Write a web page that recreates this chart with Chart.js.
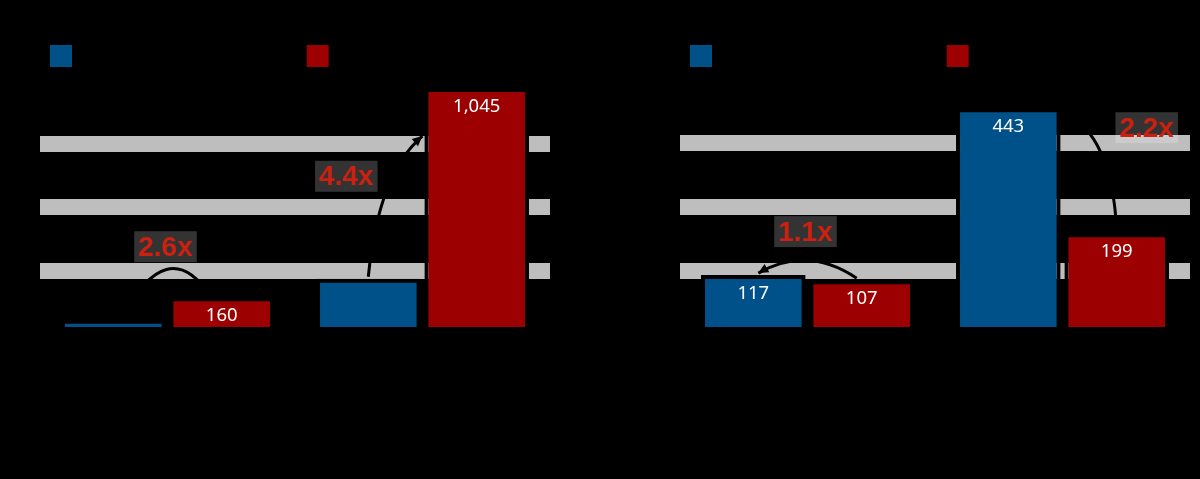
<!DOCTYPE html>
<html><head><meta charset="utf-8">
<script src="https://cdn.jsdelivr.net/npm/chart.js@4.4.1/dist/chart.umd.min.js"></script>
<style>
html,body{margin:0;padding:0;background:#000;}
#wrap{display:flex;width:1200px;height:479px;}
.box{width:600px;height:479px;}
canvas{display:block;}
</style></head><body>
<div id="wrap"><div class="box"><canvas id="c1" width="600" height="479"></canvas></div><div class="box"><canvas id="c2" width="600" height="479"></canvas></div></div>
<script>
// ---- data ----
const seriesNames = ['Previous generation system', 'New generation system'];
const leftCategories = ['Workload A', 'Workload B'];
const leftBlue = [62, 238];
const leftRed = [160, 1045];
const leftGridTicks = [270, 540, 810];
const rightCategories = ['Workload C', 'Workload D'];
const rightBlue = [117, 443];
const rightRed = [107, 199];
const rightGridTicks = [125, 250, 375];

const BLUE = '#00508a';
const RED = '#9c0000';
const GRID = '#bebebe';
const NOTE_RED = '#cc2010';

function ratioText(a, b) { return (Math.max(a, b) / Math.min(a, b)).toFixed(1) + 'x'; }

function arrowHead(ctx, fx, fy, tx, ty, size) {
  const ang = Math.atan2(ty - fy, tx - fx);
  ctx.beginPath();
  ctx.moveTo(tx, ty);
  ctx.lineTo(tx - size * Math.cos(ang - 0.45), ty - size * Math.sin(ang - 0.45));
  ctx.lineTo(tx - size * Math.cos(ang + 0.45), ty - size * Math.sin(ang + 0.45));
  ctx.closePath();
  ctx.fill();
}

const notesPlugin = {
  id: 'notes',
  afterDatasetsDraw(chart, args, opts) {
    const ctx = chart.ctx;
    const m0 = chart.getDatasetMeta(0).data;
    const m1 = chart.getDatasetMeta(1).data;
    // value labels
    ctx.save();
    ctx.fillStyle = '#ffffff';
    ctx.font = '18.5px "Noto Sans", sans-serif';
    ctx.textAlign = 'center';
    ctx.textBaseline = 'middle';
    [m0, m1].forEach((els, di) => {
      if (!opts.labelled[di]) return;
      els.forEach((el, i) => {
        const v = chart.data.datasets[di].data[i];
        ctx.fillText(v.toLocaleString('en-US'), el.x, el.y + 19);
      });
    });
    ctx.restore();
    // ratio notes with connectors
    opts.notes.forEach(n => {
      const b = m0[n.idx], r = m1[n.idx];
      const g = n.geo(b, r);
      const text = ratioText(chart.data.datasets[0].data[n.idx], chart.data.datasets[1].data[n.idx]);
      ctx.save();
      ctx.strokeStyle = '#000';
      ctx.fillStyle = '#000';
      ctx.lineWidth = 3;
      ctx.beginPath();
      ctx.moveTo(g.p0[0], g.p0[1]);
      ctx.quadraticCurveTo(g.c[0], g.c[1], g.p2[0], g.p2[1]);
      ctx.stroke();
      if (g.arrow === 'end') arrowHead(ctx, g.c[0], g.c[1], g.p2[0], g.p2[1], 11);
      else arrowHead(ctx, g.c[0], g.c[1], g.p0[0], g.p0[1], 11);
      ctx.font = 'bold 28px "Liberation Sans", Arial, sans-serif';
      ctx.textAlign = 'center';
      ctx.textBaseline = 'middle';
      const w = ctx.measureText(text).width;
      ctx.fillStyle = 'rgba(255,255,255,0.2)';
      ctx.fillRect(g.tx - w / 2 - 4, g.ty - 16, w + 8, 31);
      ctx.fillStyle = NOTE_RED;
      ctx.fillText(text, g.tx, g.ty + 1);
      ctx.restore();
    });
  }
};

function makeChart(id, cats, blue, red, gridTicks, yMax, padL, padR, labelled, notes) {
  return new Chart(document.getElementById(id), {
    type: 'bar',
    data: {
      labels: cats,
      datasets: [
        { label: seriesNames[0], data: blue, backgroundColor: BLUE, borderColor: '#000', borderWidth: 4 },
        { label: seriesNames[1], data: red, backgroundColor: RED, borderColor: '#000', borderWidth: 4 }
      ]
    },
    options: {
      responsive: false,
      devicePixelRatio: 1,
      animation: false,
      categoryPercentage: 0.85,
      barPercentage: 0.965,
      layout: { padding: { top: 35, left: padL, right: padR, bottom: 110 } },
      plugins: {
        tooltip: { enabled: false },
        legend: {
          position: 'top',
          align: 'start',
          labels: {
            boxWidth: 22, boxHeight: 22, padding: 10, color: '#000',
            font: { size: 17.5, family: '"Liberation Sans", Arial, sans-serif' },
            generateLabels: (chart) => Chart.defaults.plugins.legend.labels.generateLabels(chart)
              .map(l => Object.assign(l, { lineWidth: 0, strokeStyle: 'rgba(0,0,0,0)' }))
          }
        },
        notes: { labelled: labelled, notes: notes }
      },
      scales: {
        x: {
          grid: { display: false, drawTicks: false },
          border: { display: false },
          ticks: { color: '#000', font: { size: 15 }, padding: 8 }
        },
        y: {
          min: 0, max: yMax,
          afterBuildTicks: (s) => { s.ticks = [0].concat(gridTicks).map(v => ({ value: v })); },
          ticks: { display: false },
          grid: {
            color: (c) => (c.tick && c.tick.value > 0) ? GRID : 'rgba(0,0,0,0)',
            lineWidth: 16, drawTicks: false
          },
          border: { display: false }
        }
      }
    },
    plugins: [notesPlugin]
  });
}

makeChart('c1', leftCategories, leftBlue, leftRed, leftGridTicks, 1092, 40, 50, [false, true], [
  { idx: 0, geo: (b, r) => {
      const top = Math.min(b.y, r.y);
      return { tx: (b.x + r.x) / 2 - 2, ty: top - 50, p0: [b.x + 8, b.y - 2], c: [(b.x + r.x) / 2, top - 65], p2: [r.x - 12, r.y - 2], arrow: 'end' };
  } },
  { idx: 1, geo: (b, r) => ({
      tx: b.x - 22, ty: b.y - 102, p0: [b.x, b.y - 2], c: [b.x + 10, b.y - 105],
      p2: [r.x - r.width / 2 - 2, r.y + 48], arrow: 'end' }) }
]);

makeChart('c2', rightCategories, rightBlue, rightRed, rightGridTicks, 504, 80, 10, [true, true], [
  { idx: 0, geo: (b, r) => {
      const top = Math.min(b.y, r.y);
      return { tx: (b.x + r.x) / 2 - 2, ty: top - 43, p0: [b.x + 5, b.y - 2], c: [(b.x + r.x) / 2, top - 30], p2: [r.x - 5, r.y - 2], arrow: 'start' };
  } },
  { idx: 1, geo: (b, r) => ({
      tx: r.x + 30, ty: b.y + 20, p0: [b.x + b.width / 2 + 2, b.y + 4], c: [r.x - 5, b.y + 25],
      p2: [r.x, r.y - 3], arrow: 'end' }) }
]);
</script>
</body></html>
